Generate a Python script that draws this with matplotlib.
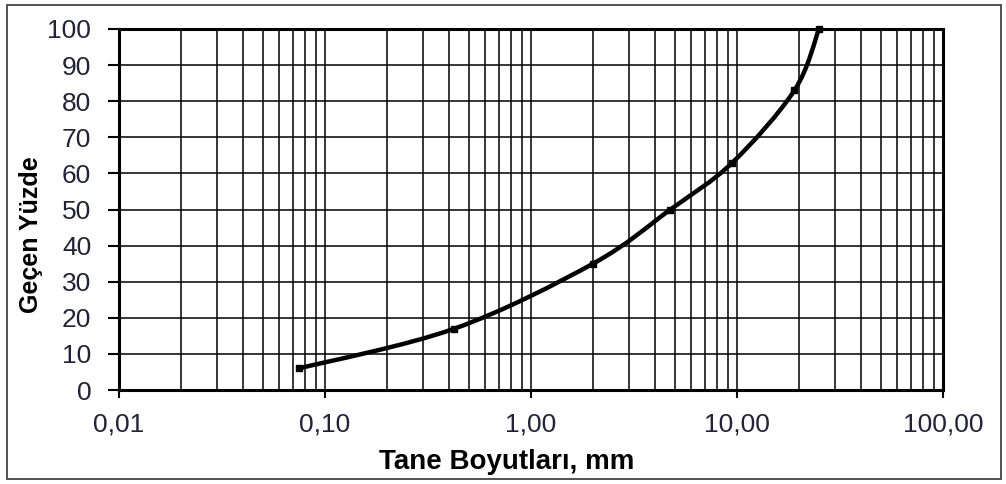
import numpy as np
import matplotlib.pyplot as plt
from matplotlib.patches import Rectangle
from matplotlib.path import Path
from matplotlib.patches import PathPatch
from matplotlib.ticker import FixedLocator, LogLocator, NullFormatter

plt.rcParams['font.family'] = ['Liberation Sans', 'DejaVu Sans']

# sieve sizes (mm) and percent passing
sieve_mm = [0.075, 0.425, 2.0, 4.75, 9.5, 19.0, 25.0]
passing = [6, 17, 35, 50, 63, 83, 100]
x_ticks = [0.01, 0.1, 1, 10, 100]
x_tick_labels = ['0,01', '0,10', '1,00', '10,00', '100,00']
y_ticks = list(range(0, 101, 10))


def smooth_path(xs, ys, tension=0.5):
    # Catmull-Rom style bezier through the points, in (log10 x, y) space
    lx = np.log10(xs)
    pts = np.column_stack([lx, ys]).astype(float)
    n = len(pts)
    verts = [pts[0]]
    codes = [Path.MOVETO]
    for i in range(n - 1):
        p0 = pts[i - 1] if i > 0 else pts[i]
        p1 = pts[i]
        p2 = pts[i + 1]
        p3 = pts[i + 2] if i + 2 < n else pts[i + 1]
        c1 = p1 + (p2 - p0) * tension / 3
        c2 = p2 - (p3 - p1) * tension / 3
        verts += [c1, c2, p2]
        codes += [Path.CURVE4] * 3
    verts = np.array(verts)
    verts[:, 0] = 10 ** verts[:, 0]
    return Path(verts, codes)


fig = plt.figure(figsize=(10.06, 4.84), dpi=100)
fig.patches.append(Rectangle((7 / 1006, 5 / 484), 994 / 1006, 474 / 484,
                             transform=fig.transFigure, fill=False,
                             edgecolor='#333333', linewidth=1.2))

ax = fig.add_axes([119 / 1006, 1 - 390 / 484, 824 / 1006, 361 / 484])
ax.set_xscale('log')
ax.set_xlim(0.01, 100)
ax.set_ylim(0, 100)

ax.xaxis.set_major_locator(FixedLocator(x_ticks))
ax.set_xticklabels(x_tick_labels)
ax.xaxis.set_minor_locator(LogLocator(base=10, subs=np.arange(2, 10)))
ax.xaxis.set_minor_formatter(NullFormatter())
ax.set_yticks(y_ticks)

ax.grid(True, which='both', axis='x', color='black', linewidth=1.1)
ax.grid(True, which='major', axis='y', color='black', linewidth=1.1)
ax.set_axisbelow(True)

for side in ['left', 'bottom', 'top', 'right']:
    ax.spines[side].set_linewidth(2.2)
    ax.spines[side].set_color('black')

ax.tick_params(axis='both', which='major', direction='out',
               width=1.5, colors='black', labelsize=19, labelcolor='#22223a')
ax.tick_params(axis='x', which='minor', length=0)
ax.tick_params(axis='x', length=6, pad=10)
ax.tick_params(axis='y', length=8, pad=12)

ax.add_patch(PathPatch(smooth_path(sieve_mm, passing), facecolor='none',
                       edgecolor='black', linewidth=3.2, zorder=3))
ax.plot(sieve_mm, passing, linestyle='none', marker='s', markersize=5,
        color='black', zorder=4, clip_on=False)

ax.set_xlabel('Tane Boyutları, mm', fontsize=20, fontweight='bold', labelpad=9)
ax.set_ylabel('Geçen Yüzde', fontsize=18, fontweight='bold', labelpad=3)
# axis titles sit a little off-centre
ax.xaxis.label.set_x(0.47)
ax.yaxis.label.set_y(0.43)

fig.savefig('out.png', dpi=100)
